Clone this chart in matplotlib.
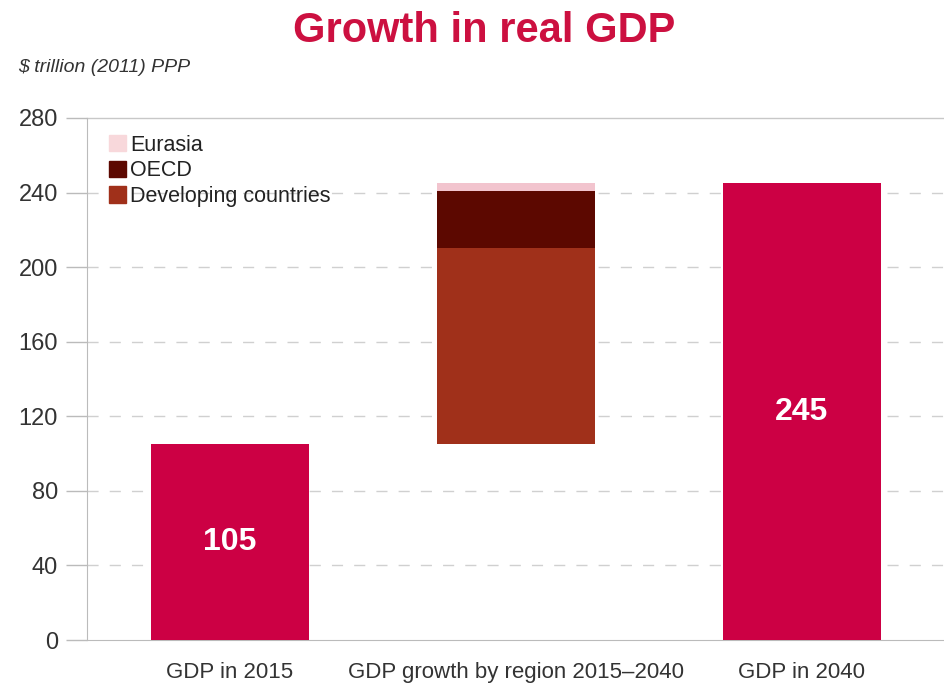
import matplotlib
matplotlib.use("Agg")
import matplotlib.pyplot as plt
from matplotlib.patches import Patch

categories = ["GDP in 2015", "GDP growth by region 2015\u20132040", "GDP in 2040"]
gdp_2015 = 105
gdp_2040 = 245
growth_labels = ["Developing countries", "OECD", "Eurasia"]
growth_values = [105, 31, 4]
yticks = [0, 40, 80, 120, 160, 200, 240, 280]

plt.rcParams['font.family'] = ['Liberation Sans', 'DejaVu Sans']

main_color = "#CC0044"
growth_colors = ["#A0301A", "#5C0800", "#F2C4CE"]
legend_colors = {"Developing countries": "#A0301A", "OECD": "#5C0800", "Eurasia": "#F8D8DB"}

fig = plt.figure(figsize=(9.45, 6.84), dpi=100)
ax = fig.add_axes([0.092, 0.0643, 0.908, 0.7632])

width = 0.553
ax.bar(0, gdp_2015, width=width, color=main_color, zorder=3)
ax.bar(2, gdp_2040, width=width, color=main_color, zorder=3)

bottom = gdp_2015
for lab, val, col in zip(growth_labels, growth_values, growth_colors):
    ax.bar(1, val, width=width, bottom=bottom, color=col, zorder=3)
    bottom += val

ax.text(0, gdp_2015 / 2, f"{gdp_2015}", color="white", fontsize=23, fontweight="bold",
        ha="center", va="center", zorder=4)
ax.text(2, gdp_2040 / 2, f"{gdp_2040}", color="white", fontsize=23, fontweight="bold",
        ha="center", va="center", zorder=4)

ax.set_xlim(-0.5, 2.5)
ax.set_ylim(0, 280)
ax.set_yticks(yticks)
ax.set_yticklabels([str(t) for t in yticks], fontsize=17, color="#333333")
ax.set_xticks([0, 1, 2])
ax.set_xticklabels(categories, fontsize=16, color="#333333")
ax.tick_params(axis="x", length=0, pad=16)
ax.tick_params(axis="y", length=15, color="#BBBBBB", width=1, pad=6)

for t in yticks[1:-1]:
    ax.axhline(t, color="#D0D0D0", lw=1, ls=(0, (8, 8)), zorder=1)
ax.axhline(280, color="#C8C8C8", lw=1, zorder=1, clip_on=False)

for s in ["top", "right"]:
    ax.spines[s].set_visible(False)
ax.spines["left"].set_color("#BBBBBB")
ax.spines["bottom"].set_color("#BBBBBB")

handles = [Patch(color=legend_colors[l]) for l in ["Eurasia", "OECD", "Developing countries"]]
leg = ax.legend(handles, ["Eurasia", "OECD", "Developing countries"], loc="upper left",
                bbox_to_anchor=(0.008, 0.997), frameon=False, fontsize=15.5,
                handlelength=0.8, handleheight=0.8, handletextpad=0.2, labelspacing=0.22,
                borderaxespad=0.3)
for txt in leg.get_texts():
    txt.set_color("#222222")

fig.text(0.512, 0.955, "Growth in real GDP", color="#CC1040", fontsize=30,
         fontweight="bold", ha="center", va="center")
fig.text(0.019, 0.902, "$ trillion (2011) PPP", color="#333333", fontsize=14,
         style="italic", ha="left", va="center")

fig.savefig("out.png", dpi=100)
